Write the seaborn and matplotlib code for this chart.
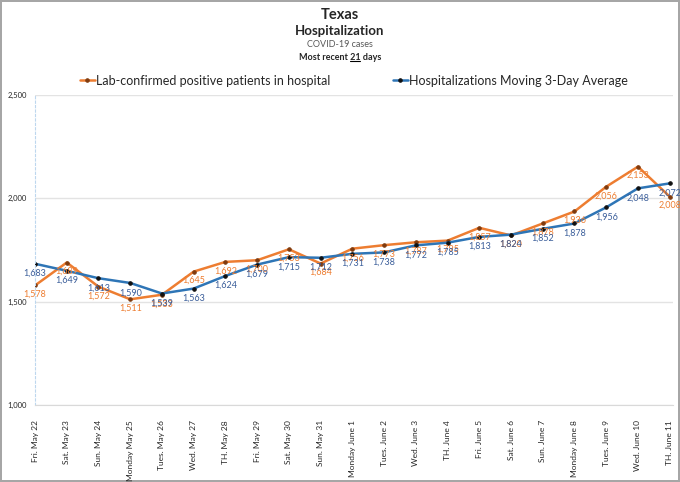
import pandas as pd
import matplotlib
matplotlib.use('Agg')
import matplotlib.pyplot as plt
import seaborn as sns

# Data
days = ["Fri. May 22", "Sat. May 23", "Sun. May 24", "Monday May 25", "Tues. May 26",
        "Wed. May 27", "TH. May 28", "Fri. May 29", "Sat. May 30", "Sun. May 31",
        "Monday June 1", "Tues. June 2", "Wed. June 3", "TH. June 4", "Fri. June 5",
        "Sat. June 6", "Sun. June 7", "Monday June 8", "Tues. June 9", "Wed. June 10",
        "TH. June 11"]
lab_confirmed = [1578, 1689, 1572, 1511, 1533, 1645, 1692, 1700, 1753, 1684, 1756,
                 1773, 1787, 1795, 1857, 1820, 1878, 1936, 2056, 2153, 2008]
moving_avg = [1683, 1649, 1613, 1590, 1539, 1563, 1624, 1679, 1715, 1712, 1731,
              1738, 1772, 1785, 1813, 1824, 1852, 1878, 1956, 2048, 2072]
y_ticks = [1000, 1500, 2000, 2500]

df = pd.DataFrame({'Day': days, 'Lab': lab_confirmed, 'Avg': moving_avg})

sns.set_style("white")
plt.rcParams['font.family'] = ['Lato', 'DejaVu Sans']

orange = '#ED7D31'
blue = '#2E75B6'

fig = plt.figure(figsize=(6.8, 4.82), dpi=100)
fig.patch.set_edgecolor('#A6A6A6')
fig.patch.set_linewidth(1.5)
ax = fig.add_axes([0.0515, 0.16, 0.938, 0.643])

sns.lineplot(data=df, x='Day', y='Lab', color=orange, lw=1.8, marker='o', ms=2.5,
             mfc='#7F3B0F', mec='#7F3B0F', sort=False,
             label='Lab-confirmed positive patients in hospital', ax=ax)
sns.lineplot(data=df, x='Day', y='Avg', color=blue, lw=1.8, marker='o', ms=2.5,
             mfc='#111111', mec='#111111', sort=False,
             label='Hospitalizations Moving 3-Day Average', ax=ax)

# data labels
for i, (a, b) in enumerate(zip(lab_confirmed, moving_avg)):
    ax.annotate(f"{a:,}", (i, a), xytext=(0, -6.5), textcoords='offset points',
                ha='center', va='center', fontsize=6.5, color=orange)
    ax.annotate(f"{b:,}", (i, b), xytext=(0, -7), textcoords='offset points',
                ha='center', va='center', fontsize=6.5, color='#3B5E9A')

ax.set_xlim(0, 20.1)
ax.set_ylim(1000, 2500)
ax.set_yticks(y_ticks)
ax.set_yticklabels([f"{v:,}" for v in y_ticks], fontsize=5.5)
ax.yaxis.grid(True, color='#E3E3E3', lw=1)
ax.set_xticks(range(len(days)))
ax.set_xticklabels(days, rotation=90, fontsize=6)
ax.tick_params(axis='x', length=3, color='#D0D0D0', pad=8)
ax.tick_params(axis='y', length=0, pad=6)
ax.set_xlabel('')
ax.set_ylabel('')
for s in ['top', 'right']:
    ax.spines[s].set_visible(False)
ax.spines['bottom'].set_color('#D9D9D9')
ax.spines['left'].set_color('#BDD7EE')
ax.spines['left'].set_linestyle((0, (2, 2)))

ax.legend(loc='lower center', bbox_to_anchor=(0.5, 0.99), ncol=2, frameon=False,
          fontsize=9, handlelength=1.2, handletextpad=0.1, columnspacing=5)

# titles
fig.text(0.5, 0.968, 'Texas', ha='center', va='center', fontsize=10.5, fontweight='bold')
fig.text(0.5, 0.935, 'Hospitalization', ha='center', va='center', fontsize=9.5, fontweight='bold')
fig.text(0.5, 0.908, 'COVID-19 cases', ha='center', va='center', fontsize=6.5, color='#595959')
t = fig.text(0.5, 0.881, 'Most recent 21 days', ha='center', va='center',
             fontsize=6.5, fontweight='bold')

# underline the "21"
fig.canvas.draw()
r = fig.canvas.get_renderer()
full = t.get_window_extent(r)
tmp = fig.text(0, 0, 'Most recent ', fontsize=6.5, fontweight='bold')
w_pre = tmp.get_window_extent(r).width
tmp.set_text('Most recent 21')
w_num = tmp.get_window_extent(r).width
tmp.remove()
fw, fh = fig.bbox.width, fig.bbox.height
x0 = (full.x0 + w_pre) / fw
x1 = (full.x0 + w_num) / fw
yl = (full.y0 + 0.5) / fh
fig.add_artist(plt.Line2D([x0, x1], [yl, yl], color='black', lw=0.8, transform=fig.transFigure))

fig.savefig('out.png', dpi=100)
